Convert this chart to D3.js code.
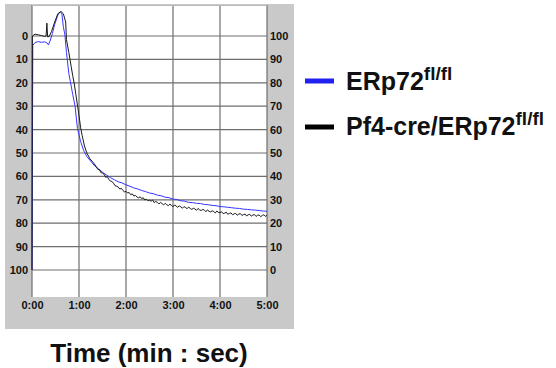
<!DOCTYPE html>
<html><head><meta charset="utf-8">
<script src="https://cdn.jsdelivr.net/npm/d3@7"></script>
<style>body{margin:0;background:#fff}svg{display:block}text{font-family:"Liberation Sans",Arial,sans-serif;font-weight:bold}</style>
</head><body>
<svg id="c" width="556" height="368"></svg>
<script>
// x tick labels (min:sec), axis values
const xTicks = [0, 60, 120, 180, 240, 300];
const xTickLabels = ["0:00", "1:00", "2:00", "3:00", "4:00", "5:00"];
const yTicks = [0, 10, 20, 30, 40, 50, 60, 70, 80, 90, 100];
const seriesNames = ["ERp72", "Pf4-cre/ERp72"];
const seriesSup = ["fl/fl", "fl/fl"];
const seriesColors = ["#3535ff", "#1a1a1a"];

// ERp72 fl/fl (blue) — time in seconds, value on right axis (%)
const blueTime = [0,1,4,8,12,16,19,21,23,26,29,33,36,38,40,42,44,47,49,52,55,58,62,66,70,75,80,85,90,95,100,105,110,115,120,125,130,135,140,145,150,155,160,165,170,175,180,185,190,195,200,205,210,215,220,225,230,235,240,245,250,255,260,265,270,275,280,285,290,295,300];
const blueValue = [0,96,97.2,97.6,97.3,97.5,97.1,96.2,97.8,101,105,109,110.3,109.8,104,100.5,93,84,80.5,75,70,60.5,55,51,48.5,46.5,44.5,43.2,41.8,40.6,39.5,38.6,37.7,37.2,36.4,35.8,35.1,34.6,34.0,33.5,32.9,32.6,32.0,31.7,31.1,30.9,30.3,30.1,29.6,29.4,28.9,28.8,28.5,28.4,28.0,27.9,27.6,27.5,27.1,27.0,26.8,26.6,26.4,26.3,26.0,25.9,25.7,25.6,25.4,25.2,25.1];

// Pf4-cre/ERp72 fl/fl (black)
const blackTime = [0,0.5,4,8,12,16,18,19,20,22,25,29,33,37,40,43,44,47,50,52,54,56,58,60,62,64,67,70,74,78,82,84,86,88,90,92,94,96,98,100,102,104,106,108,110,112,114,116,118,120,122,124,126,128,130,132,134,136,138,140,142,144,146,148,150,152,154,156,158,160,162,164,166,168,170,172,174,176,178,180,182,184,186,188,190,192,194,196,198,200,202,204,206,208,210,212,214,216,218,220,222,224,226,228,230,232,234,236,238,240,242,244,246,248,250,252,254,256,258,260,262,264,266,268,270,272,274,276,278,280,282,284,286,288,290,292,294,296,298,300];
const blackValue = [0,100.0,100.8,100.5,100.2,99.8,100.0,105.5,99.6,99.8,102,106,109.5,110.5,109.5,106,98.5,93,87,83,79.5,75,70.5,66,61,57.5,53,50,47.5,46,
  44.2,43.0,42.9,41.6,41.4,40.9,39.6,39.9,38.8,38.0,37.9,37.1,36.0,35.8,35.5,34.6,34.9,34.0,33.4,33.6,32.9,33.1,32.2,32.5,31.6,31.9,31.2,30.8,31.3,30.5,30.9,29.9,30.3,29.6,29.8,29.4,29.9,28.8,29.3,28.9,28.2,28.9,28.4,27.8,28.5,27.9,27.5,28.1,27.7,27.0,27.8,27.3,26.8,27.4,27.0,26.4,27.1,26.7,26.2,26.9,26.3,25.9,26.4,26.1,25.5,26.3,25.7,25.4,25.9,25.6,24.9,25.7,25.1,24.8,25.3,25.0,24.4,25.2,24.6,24.5,24.9,24.1,24.3,24.7,23.8,24.2,24.4,23.6,24.0,24.2,23.4,23.9,24.1,23.3,23.7,23.9,23.1,23.6,23.8,23.0,23.5,23.7,22.9,23.4,23.5,22.8,23.3,23.6,22.9,23.4];

const svg = d3.select("#c");
const plot = {left: 32, right: 267, top: 5, bottom: 297};
const x = d3.scaleLinear().domain([0, 300]).range([plot.left, plot.right]);
const y = d3.scaleLinear().domain([0, 100]).range([270, 36]);

// gray panel
svg.append("rect").attr("x", 5).attr("y", 4).attr("width", 289).attr("height", 325).attr("fill", "#c9c9c9");
svg.append("rect").attr("x", plot.left).attr("y", plot.top).attr("width", plot.right - plot.left).attr("height", plot.bottom - plot.top).attr("fill", "#fff");

// grid
const gridColor = "#6e6e6e";
svg.append("g").selectAll("line").data(yTicks).join("line")
  .attr("x1", plot.left).attr("x2", plot.right)
  .attr("y1", d => y(d)).attr("y2", d => y(d))
  .attr("stroke", gridColor).attr("stroke-width", 1.2);
svg.append("g").selectAll("line").data(xTicks).join("line")
  .attr("x1", d => x(d)).attr("x2", d => x(d))
  .attr("y1", plot.top).attr("y2", plot.bottom)
  .attr("stroke", gridColor).attr("stroke-width", 1.2);
svg.append("line").attr("x1", plot.left).attr("x2", plot.right).attr("y1", plot.top + 0.5).attr("y2", plot.top + 0.5).attr("stroke", "#bbb");

// axes labels
const leftAxis = d3.axisLeft(y).tickValues(yTicks).tickSize(0).tickPadding(3).tickFormat(d => 100 - d);
const gl = svg.append("g").attr("transform", `translate(${plot.left},0)`).call(leftAxis);
const rightAxis = d3.axisRight(y).tickValues(yTicks).tickSize(0).tickPadding(3).tickFormat(d => d);
const gr = svg.append("g").attr("transform", `translate(${plot.right},0)`).call(rightAxis);
const bottomAxis = d3.axisBottom(x).tickValues(xTicks).tickSize(0).tickPadding(0).tickFormat((d, i) => xTickLabels[i]);
const gb = svg.append("g").attr("transform", `translate(0,${plot.bottom + 4})`).call(bottomAxis);
[gl, gr, gb].forEach(g => {
  g.select(".domain").remove();
  g.selectAll("text").attr("font-size", 11).attr("font-weight", "bold").attr("fill", "#111")
    .attr("font-family", '"Liberation Sans", Arial, sans-serif');
});
gl.attr("transform", `translate(${plot.left - 1},0)`);

// lines
const line = d3.line().x(d => x(d[0])).y(d => y(d[1]));
const blue = blueTime.map((t, i) => [t, blueValue[i]]);
const black = blackTime.map((t, i) => [t, blackValue[i]]);
svg.append("path").datum(blue).attr("d", line).attr("fill", "none").attr("stroke", seriesColors[0]).attr("stroke-width", 1);
svg.append("path").datum(black).attr("d", line).attr("fill", "none").attr("stroke", seriesColors[1]).attr("stroke-width", 1);

// axis title
svg.append("text").attr("x", 149).attr("y", 362).attr("text-anchor", "middle")
  .attr("font-size", 26).attr("fill", "#111").text("Time (min : sec)");

// legend
const legY = [81, 127];
const legBase = [90, 135];
seriesNames.forEach((n, i) => {
  svg.append("line").attr("x1", 305).attr("x2", 334).attr("y1", legY[i]).attr("y2", legY[i])
    .attr("stroke", i === 0 ? "#2020f0" : "#000").attr("stroke-width", 5);
  const t = svg.append("text").attr("x", 346).attr("y", legBase[i]).attr("font-size", 25).attr("fill", "#111");
  t.append("tspan").text(n);
  t.append("tspan").attr("font-size", 19).attr("dy", -10).text(seriesSup[i]);
});
</script>
</body></html>
